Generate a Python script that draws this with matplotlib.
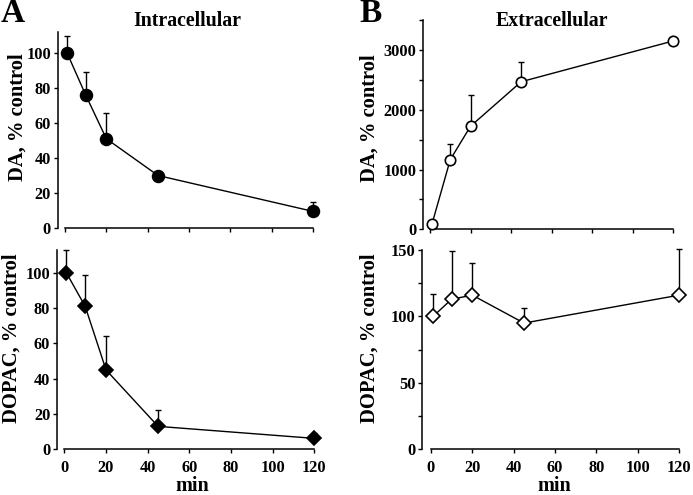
import numpy as np
import matplotlib
matplotlib.use("Agg")
import matplotlib.pyplot as plt
from matplotlib.ticker import MultipleLocator

plt.rcParams['font.family'] = ['Liberation Serif', 'DejaVu Serif']
plt.rcParams['font.weight'] = 'bold'

# ---- data ----
minutes = [1, 10, 20, 45, 120]
intra_da = [100, 76, 51, 30, 9.5]
intra_da_err = [10, 13, 15, 0, 5.5]
intra_dopac = [100, 81, 45, 13, 6.2]
intra_dopac_err = [13, 18, 19, 9, 3.3]
extra_da = [90, 1165, 1724, 2468, 3150]
extra_da_err = [0, 255, 527, 332, 0]
extra_dopac = [100, 113, 116, 95, 116]
extra_dopac_err = [17, 36, 24, 11, 35]
xticks = [0, 20, 40, 60, 80, 100, 120]

W, H = 693, 495
fig = plt.figure(figsize=(W / 100, H / 100), dpi=100)


def px_axes(left, right, top, bottom):
    return fig.add_axes([left / W, 1 - bottom / H, (right - left) / W, (bottom - top) / H])


def style(ax, xlim_left, ylim, ymajor, yminor=None, xlabels=True):
    ax.set_xlim(xlim_left, 120)
    ax.set_ylim(*ylim)
    for s in ['top', 'right']:
        ax.spines[s].set_visible(False)
    for s in ['left', 'bottom']:
        ax.spines[s].set_linewidth(1.1)
    ax.spines['bottom'].set_bounds(0, 120)
    ax.set_xticks(xticks)
    if not xlabels:
        ax.set_xticklabels([])
    ax.yaxis.set_major_locator(MultipleLocator(ymajor))
    if yminor:
        ax.yaxis.set_minor_locator(MultipleLocator(yminor))
    ax.tick_params(axis='both', which='both', direction='out', length=3, width=1,
                   labelsize=11.8, pad=2)
    ax.tick_params(axis='x', pad=5)
    for lab in ax.get_xticklabels() + ax.get_yticklabels():
        lab.set_fontweight('bold')
    ax.patch.set_alpha(0)


def series(ax, y, err, marker, mfc, ms):
    lower = np.zeros(len(err))
    ax.errorbar(minutes, y, yerr=[lower, err], fmt='none', ecolor='black',
                elinewidth=1, capsize=2.5, capthick=1, clip_on=False, zorder=2)
    ax.plot(minutes, y, color='black', lw=1, marker=marker, ms=ms, mfc=mfc,
            mec='black', mew=1.2, clip_on=False, zorder=3)


axA1 = px_axes(58, 313, 32, 228)
style(axA1, -3.4, (0, 112), 20, xlabels=False)
series(axA1, intra_da, intra_da_err, 'o', 'black', 8.5)

axA2 = px_axes(57.3, 314.3, 250, 449.3)
style(axA2, -3.4, (0, 113), 20)
series(axA2, intra_dopac, intra_dopac_err, 'D', 'black', 7.5)

axB1 = px_axes(423.3, 673.3, 20, 229.3)
style(axB1, -3.3, (0, 3500), 1000, 500, xlabels=False)
series(axB1, extra_da, extra_da_err, 'o', 'white', 7.5)

axB2 = px_axes(422.3, 679, 250, 449.3)
style(axB2, -4.2, (0, 150), 50, 25)
series(axB2, extra_dopac, extra_dopac_err, 'D', 'white', 7.5)


def ftext(x, y, s, size, rot=0):
    fig.text(x / W, 1 - y / H, s, fontsize=size, fontweight='bold', rotation=rot,
             ha='center', va='center')


ftext(13, 14, 'A', 24)
ftext(371, 14, 'B', 24)
ftext(187.5, 21, 'Intracellular', 14.3)
ftext(551.7, 21, 'Extracellular', 14.3)
ftext(17.5, 116.7, 'DA, % control', 14.8, 90)
ftext(12, 338.5, 'DOPAC, % control', 14.8, 90)
ftext(370, 118.5, 'DA, % control', 14.8, 90)
ftext(370, 338, 'DOPAC, % control', 14.8, 90)
ftext(192, 486, 'min', 14.5)
ftext(554, 486, 'min', 14.5)

fig.savefig('out.png', dpi=100)
